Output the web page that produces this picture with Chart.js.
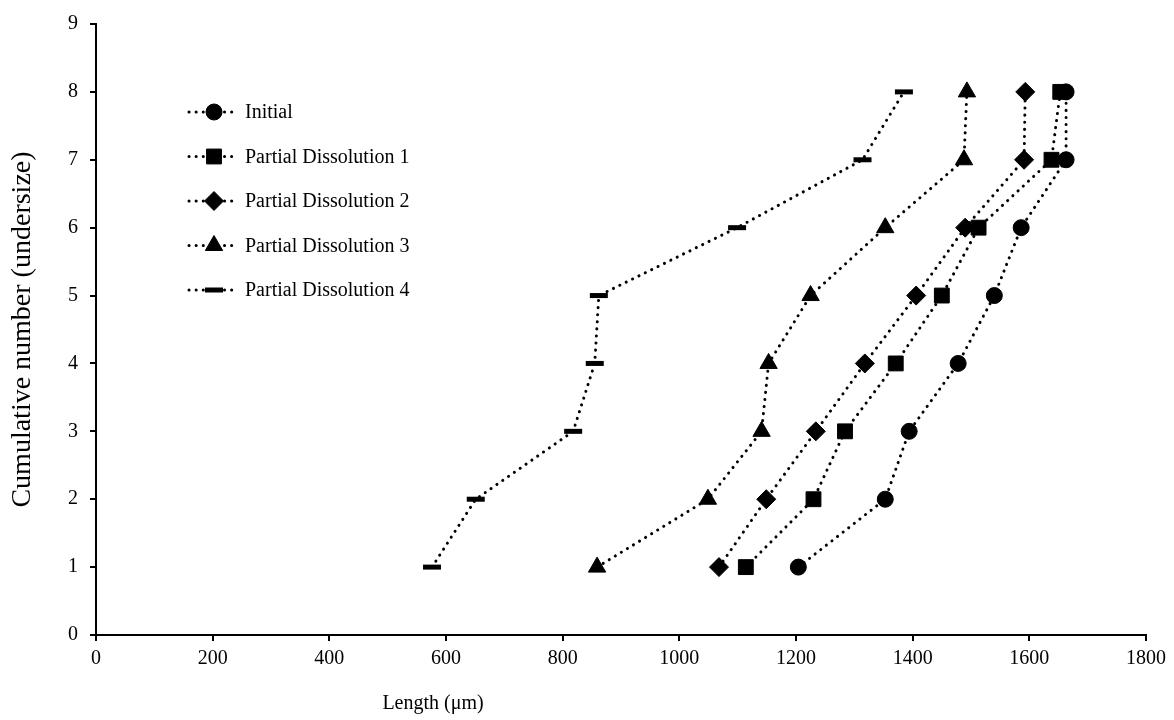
<!DOCTYPE html>
<html>
<head>
<meta charset="utf-8">
<script src="https://cdn.jsdelivr.net/npm/chart.js@4.4.1/dist/chart.umd.min.js"></script>
<style>
  html, body { margin: 0; padding: 0; background: #fff; }
  #wrap { width: 1174px; height: 720px; position: relative; }
</style>
</head>
<body>
<div id="wrap"><canvas id="c" width="1174" height="720"></canvas></div>
<script>
// ---- Data ----
const cumulativeNumber = [1, 2, 3, 4, 5, 6, 7, 8];
const seriesNames = ['Initial', 'Partial Dissolution 1', 'Partial Dissolution 2', 'Partial Dissolution 3', 'Partial Dissolution 4'];
const initialLength = [1204, 1353, 1394, 1478, 1540, 1586, 1663, 1663];
const pd1Length = [1114, 1230, 1284, 1371, 1450, 1513, 1638, 1653];
const pd2Length = [1068, 1149, 1234, 1318, 1406, 1490, 1591, 1593];
const pd3Length = [859, 1049, 1141, 1153, 1225, 1353, 1488, 1493];
const pd4Length = [576, 651, 818, 855, 862, 1099, 1314, 1385];
const xTickValues = [0, 200, 400, 600, 800, 1000, 1200, 1400, 1600, 1800];
const yTickValues = [0, 1, 2, 3, 4, 5, 6, 7, 8, 9];
const xAxisTitle = 'Length (\u03bcm)';
const yAxisTitle = 'Cumulative number (undersize)';

const FONT = "'Liberation Serif', 'Times New Roman', serif";
const styles = [
  { pointStyle: 'circle', radius: 8, bw: 1 },
  { pointStyle: 'rect', radius: 10.5, bw: 1 },
  { pointStyle: 'rectRot', radius: 9.5, bw: 1 },
  { pointStyle: 'triangle', radius: 10, bw: 1 },
  { pointStyle: 'line', radius: 9, bw: 5 }
];
const seriesValues = [initialLength, pd1Length, pd2Length, pd3Length, pd4Length];

const datasets = seriesValues.map((vals, i) => ({
  label: seriesNames[i],
  data: vals.map((x, j) => ({ x: x, y: cumulativeNumber[j] })),
  showLine: true,
  borderColor: '#000',
  backgroundColor: '#000',
  borderWidth: 3,
  borderDash: [0.1, 7],
  borderCapStyle: 'round',
  pointStyle: styles[i].pointStyle,
  pointRadius: styles[i].radius,
  pointHoverRadius: styles[i].radius,
  pointBorderWidth: styles[i].bw,
  pointBackgroundColor: '#000',
  pointBorderColor: '#000'
}));

function drawMarker(ctx, style, x, y, r, bw) {
  ctx.save();
  ctx.fillStyle = '#000';
  ctx.strokeStyle = '#000';
  ctx.lineWidth = bw;
  ctx.setLineDash([]);
  ctx.beginPath();
  if (style === 'circle') {
    ctx.arc(x, y, r, 0, Math.PI * 2);
    ctx.fill(); ctx.stroke();
  } else if (style === 'rect') {
    const s = r * Math.SQRT1_2;
    ctx.rect(x - s, y - s, 2 * s, 2 * s);
    ctx.fill(); ctx.stroke();
  } else if (style === 'rectRot') {
    ctx.moveTo(x, y - r); ctx.lineTo(x + r, y); ctx.lineTo(x, y + r); ctx.lineTo(x - r, y); ctx.closePath();
    ctx.fill(); ctx.stroke();
  } else if (style === 'triangle') {
    ctx.moveTo(x, y - r);
    ctx.lineTo(x + r * Math.cos(Math.PI / 6), y + r * 0.5);
    ctx.lineTo(x - r * Math.cos(Math.PI / 6), y + r * 0.5);
    ctx.closePath();
    ctx.fill(); ctx.stroke();
  } else if (style === 'line') {
    ctx.moveTo(x - r, y); ctx.lineTo(x + r, y);
    ctx.stroke();
  }
  ctx.restore();
}

const legendPlugin = {
  id: 'customLegend',
  afterDatasetsDraw(chart) {
    const ctx = chart.ctx;
    const startY = 112, stepY = 44.5;
    const mx = 214;
    datasets.forEach((ds, i) => {
      const y = startY + i * stepY;
      ctx.save();
      ctx.strokeStyle = '#000';
      ctx.lineWidth = 3;
      ctx.lineCap = 'round';
      ctx.setLineDash([0.1, 7]);
      ctx.beginPath();
      ctx.moveTo(189, y); ctx.lineTo(238, y);
      ctx.stroke();
      ctx.restore();
      drawMarker(ctx, styles[i].pointStyle, mx, y, styles[i].radius, styles[i].bw);
      ctx.save();
      ctx.fillStyle = '#000';
      ctx.font = '20px ' + FONT;
      ctx.textBaseline = 'middle';
      ctx.textAlign = 'left';
      ctx.fillText(ds.label, 245, y + 1);
      ctx.restore();
    });
  }
};

const xTitlePlugin = {
  id: 'xTitle',
  afterDraw(chart) {
    const ctx = chart.ctx;
    ctx.save();
    ctx.fillStyle = '#000';
    ctx.font = '20px ' + FONT;
    ctx.textAlign = 'center';
    ctx.textBaseline = 'middle';
    ctx.fillText(xAxisTitle, 433, 704);
    ctx.restore();
  }
};

new Chart(document.getElementById('c'), {
  type: 'scatter',
  data: { datasets: datasets },
  options: {
    responsive: false,
    animation: false,
    devicePixelRatio: 1,
    layout: { padding: { left: 6, right: 28, top: 20, bottom: 0 } },
    plugins: { legend: { display: false }, tooltip: { enabled: false } },
    scales: {
      x: {
        type: 'linear',
        min: 0, max: 1800,
        afterBuildTicks(scale) { scale.ticks = xTickValues.map(v => ({ value: v })); },
        afterFit(scale) { scale.height = 85; },
        grid: { display: true, drawOnChartArea: false, drawTicks: true, tickLength: 6, color: '#000', lineWidth: 2 },
        border: { display: true, color: '#000', width: 2 },
        ticks: { color: '#000', font: { family: FONT, size: 20 }, padding: 6, maxRotation: 0, callback: v => String(v) },
        title: { display: false }
      },
      y: {
        type: 'linear',
        min: 0, max: 9,
        afterBuildTicks(scale) { scale.ticks = yTickValues.map(v => ({ value: v })); },
        afterFit(scale) { scale.width = 90; },
        grid: { display: true, drawOnChartArea: false, drawTicks: true, tickLength: 6, color: '#000', lineWidth: 2 },
        border: { display: true, color: '#000', width: 2 },
        ticks: { color: '#000', font: { family: FONT, size: 20 }, padding: 12, callback: v => String(v) },
        title: { display: true, text: yAxisTitle, color: '#000', font: { family: FONT, size: 28 }, padding: { top: 0, bottom: 0 } }
      }
    }
  },
  plugins: [legendPlugin, xTitlePlugin]
});
</script>
</body>
</html>
